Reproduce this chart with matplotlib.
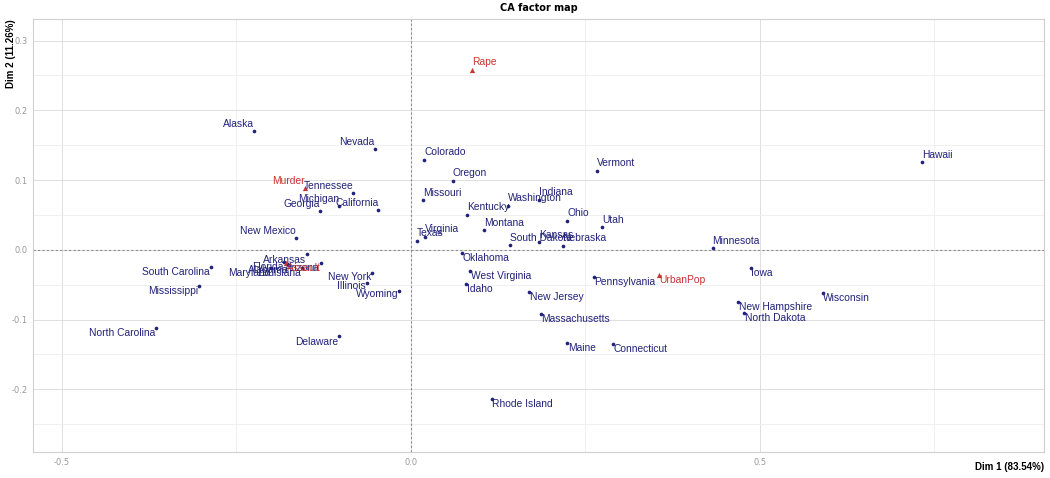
import matplotlib
matplotlib.use("Agg")
import matplotlib.pyplot as plt

# row points (states): CA coordinates
states = ["Alaska", "Nevada", "Tennessee", "Michigan", "Georgia", "California",
          "New Mexico", "Arkansas", "Arizona", "Florida", "Maryland", "Alabama",
          "Louisiana", "South Carolina", "Mississippi", "North Carolina", "Delaware",
          "New York", "Illinois", "Wyoming", "Texas", "Virginia", "Colorado",
          "Oregon", "Missouri", "Kentucky", "Washington", "Indiana", "Montana",
          "Ohio", "Utah", "Vermont", "South Dakota", "Kansas", "Nebraska",
          "Oklahoma", "West Virginia", "Idaho", "Pennsylvania", "New Jersey",
          "Massachusetts", "Maine", "Connecticut", "Rhode Island", "Hawaii",
          "Minnesota", "Iowa", "New Hampshire", "North Dakota", "Wisconsin"]
dim1 = [-0.2245, -0.0520, -0.0831, -0.1027, -0.1299, -0.0468,
        -0.1652, -0.1490, -0.1295, -0.1819, -0.2006, -0.1748,
        -0.1562, -0.2870, -0.3037, -0.3649, -0.1027,
        -0.0554, -0.0635, -0.0172, 0.0082, 0.0201, 0.0191,
        0.0602, 0.0168, 0.0798, 0.1394, 0.1838, 0.1046,
        0.2239, 0.2736, 0.2665, 0.1423, 0.1834, 0.2173,
        0.0726, 0.0852, 0.0795, 0.2617, 0.1693,
        0.1862, 0.2239, 0.2894, 0.1156, 0.7321,
        0.4322, 0.4867, 0.4689, 0.4771, 0.5898]
dim2 = [0.1707, 0.1449, 0.0808, 0.0627, 0.0555, 0.0574,
        0.0165, -0.0067, -0.0191, -0.0172, -0.0258, -0.0215,
        -0.0258, -0.0240, -0.0516, -0.1123, -0.1241,
        -0.0340, -0.0478, -0.0588, 0.0133, 0.0187, 0.1291,
        0.0990, 0.0713, 0.0502, 0.0631, 0.0717, 0.0277,
        0.0416, 0.0320, 0.1133, 0.0067, 0.0110, 0.0057,
        -0.0039, -0.0306, -0.0484, -0.0387, -0.0603,
        -0.0918, -0.1339, -0.1349, -0.2142, 0.1253,
        0.0024, -0.0263, -0.0742, -0.0900, -0.0613]

# column points (variables)
variables = ["Murder", "Assault", "UrbanPop", "Rape"]
var_dim1 = [-0.1519, -0.1791, 0.3553, 0.0874]
var_dim2 = [0.0885, -0.0187, -0.0363, 0.2582]

# where each label sits relative to its point
state_pos = ["ul", "ul", "ul", "ul", "ul", "ul",
             "ul", "ll", "ll", "ll", "ll", "ll",
             "ll", "ll", "ll", "ll", "ll",
             "l", "l", "l", "ur", "ur", "ur",
             "ur", "ur", "ur", "ur", "ur", "ur",
             "ur", "ur", "ur", "ur", "ur", "ur",
             "lr", "lr", "lr", "lr", "lr",
             "lr", "lr", "lr", "lr", "ur",
             "ur", "lr", "lr", "lr", "lr"]
var_pos = ["ul", "lr", "lr", "ur"]

row_col = "#22227a"
col_col = "#cc3333"

offsets = {"ul": ((0, 5.2), "right"), "ur": ((0, 5.4), "left"),
           "lr": ((0.5, -3.8), "left"), "ll": ((-0.5, -3.8), "right"),
           "l": ((-0.5, -2.2), "right")}

fig = plt.figure(figsize=(10.5, 4.78), dpi=100)
ax = fig.add_axes([0.0314, 0.0544, 0.9629, 0.9059])
plt.rcParams["font.family"] = ["Liberation Sans", "DejaVu Sans"]

ax.set_xlim(-0.5415, 0.907)
ax.set_ylim(-0.290, 0.331)
ax.set_xticks([-0.5, 0.0, 0.5])
ax.set_xticklabels(["-0.5", "0.0", "0.5"])
ax.set_xticks([-0.25, 0.25, 0.75], minor=True)
ax.set_yticks([-0.2, -0.1, 0.0, 0.1, 0.2, 0.3])
ax.set_yticklabels(["-0.2", "-0.1", "0.0", "0.1", "0.2", "0.3"])
ax.set_yticks([-0.25, -0.15, -0.05, 0.05, 0.15, 0.25], minor=True)
ax.grid(which="major", color="#d9d9d9", linewidth=0.6)
ax.grid(which="minor", color="#eeeeee", linewidth=0.6)
ax.set_axisbelow(True)
ax.tick_params(which="both", length=0, labelsize=6, labelcolor="#999999", pad=4)
for s in ax.spines.values():
    s.set_color("#d0d0d0")
    s.set_linewidth(0.8)

ax.axhline(0, color="#8a8a8a", linestyle=(0, (2, 2)), linewidth=0.8, zorder=1)
ax.axvline(0, color="#8a8a8a", linestyle=(0, (2, 2)), linewidth=0.8, zorder=1)

ax.scatter(dim1, dim2, s=7, color=row_col, zorder=3, linewidths=0)
ax.scatter(var_dim1, var_dim2, s=14, marker="^", color=col_col, zorder=3, linewidths=0)

for name, x, y, p in zip(states, dim1, dim2, state_pos):
    off, ha = offsets[p]
    ax.annotate(name, (x, y), xytext=off, textcoords="offset points",
                ha=ha, va="center", fontsize=7.4, color=row_col, zorder=4)
for name, x, y, p in zip(variables, var_dim1, var_dim2, var_pos):
    off, ha = offsets[p]
    ax.annotate(name, (x, y), xytext=off, textcoords="offset points",
                ha=ha, va="center", fontsize=7.4, color=col_col, zorder=4)

ax.set_title("CA factor map", fontsize=7, fontweight="bold", pad=6)
fig.text(0.9943, 0.013, "Dim 1 (83.54%)", ha="right", va="bottom",
         fontsize=7, fontweight="bold")
fig.text(0.006, 0.9603, "Dim 2 (11.26%)", ha="left", va="top", rotation=90,
         fontsize=7, fontweight="bold")

fig.savefig("out.png", dpi=100)
